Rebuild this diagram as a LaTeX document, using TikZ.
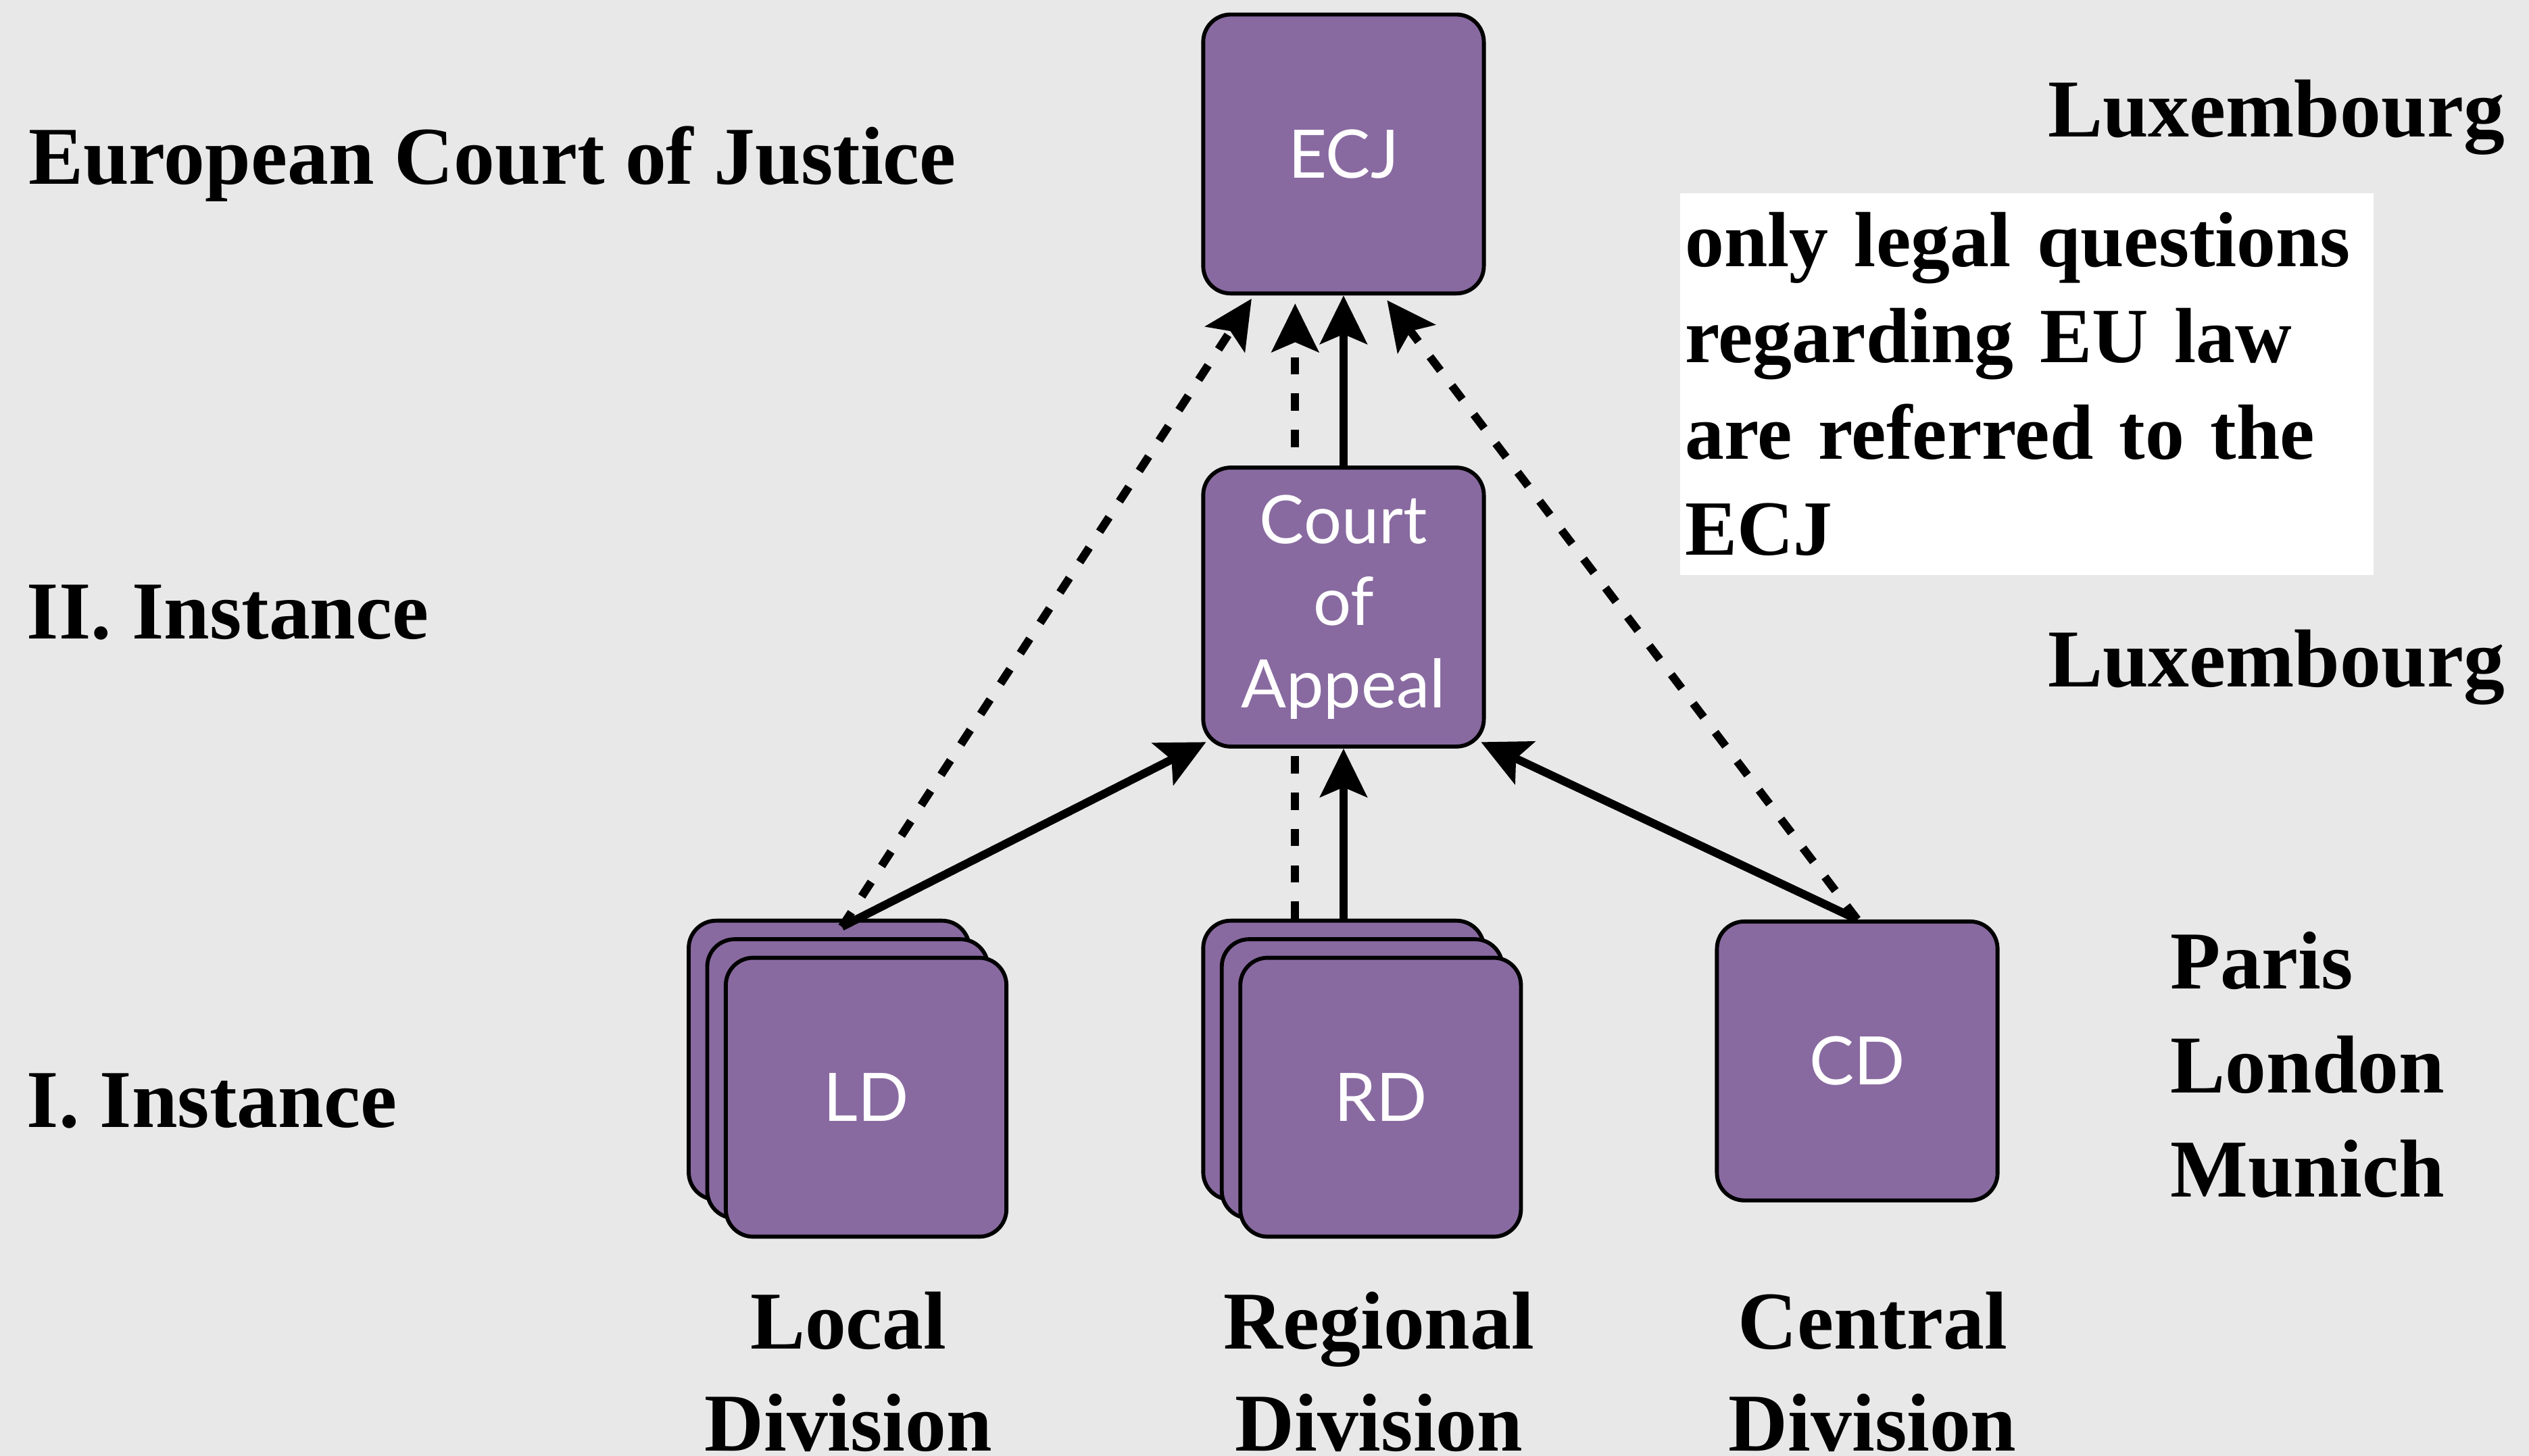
\documentclass[tikz,border=0pt]{standalone}
\usepackage{fontspec}
\setmainfont{Liberation Serif}
\newfontfamily\gillfont{Lato}
\usepackage{tikz}
\usetikzlibrary{arrows.meta,calc}
\definecolor{slidegray}{RGB}{232,232,232}
\definecolor{courtpurple}{RGB}{136,106,160}

\begin{document}
\begin{tikzpicture}[x=0.1mm,y=-0.1mm]
\tikzstyle{court}=[draw=black,line width=0.7pt,fill=courtpurple,rounded corners=1.7mm,minimum width=17.4mm,minimum height=17.3mm,inner sep=0pt,text=white,align=center,font=\gillfont\fontsize{11.8}{14.5}\selectfont]
\tikzstyle{tier}=[anchor=base west,inner sep=0pt,align=left,font=\bfseries\fontsize{14.5}{18.4}\selectfont]
\tikzstyle{divtxt}=[anchor=base,inner sep=0pt,align=center,font=\bfseries\fontsize{14.5}{18.1}\selectfont]
\tikzstyle{note}=[anchor=north west,fill=white,text width=42.4mm,minimum height=23.7mm,inner xsep=0.3mm,inner ysep=0pt,align=left,font=\bfseries\fontsize{13.8}{17}\selectfont]
\tikzstyle{appeal}=[-{Stealth[length=3mm,width=2.9mm,inset=0.6mm]},line width=1.45pt]
\tikzstyle{refer}=[appeal,dash pattern=on 1.07mm off 1.18mm]

\useasboundingbox (0,0) rectangle (1568,903);
\fill[slidegray] (0,0) rectangle (1568,903);

% instances
\node[tier] (ecjtxt) at (17,114) {European Court of Justice};
\node[tier] (iitxt) at (16,396) {II. Instance};
\node[tier] (itxt) at (16,699) {I. Instance};

% seats
\node[tier] (lux1) at (1269,85) {Luxembourg};
\node[tier] (lux2) at (1269,426) {Luxembourg};
\node[tier] (cities) at (1345,742.5) {Paris\\London\\Munich};
\node[note] (refnote) at (1041,119) {only legal questions\\regarding EU law\\are referred to the\\ECJ};

% courts
\node[court] (ecj) at (833,95.5) {ECJ};
\node[court] (ld1) at (514,657.5) {};
\node[court] (ld2) at (525.5,669) {};
\node[court] (ld) at (537,680.5) {LD};
\node[court] (rd1) at (833,657.5) {};
\node[court] (rd2) at (844.5,669) {};
\node[court] (rd) at (856,680.5) {RD};
\node[court] (cd) at (1151.5,658) {CD};
\draw[refer] ($(rd1.north)+(-30,0)$) -- ($(ecj.south)+(-30,5)$);
\node[court] (coa) at (833,376.5) {Court\\of\\Appeal};

\node[divtxt] (ldtxt) at (526,900) {Local\\Division};
\node[divtxt] (rdtxt) at (855,900) {Regional\\Division};
\node[divtxt] (cdtxt) at (1161,900) {Central\\Division};

% appeals
\draw[appeal] ($(ld1.north)+(8,5)$) -- ($(coa.south west)+(3,-4)$);
\draw[refer] ($(ld1.north)+(8,5)$) -- ($(ecj.south)+(-57,2)$);
\draw[appeal] (rd1.north) -- (coa.south);
\draw[appeal] (coa.north) -- (ecj.south);
\draw[appeal] (cd.north) -- ($(coa.south east)+(-3,-4)$);
\draw[refer] (cd.north) -- ($(ecj.south)+(27,3)$);
\end{tikzpicture}
\end{document}
